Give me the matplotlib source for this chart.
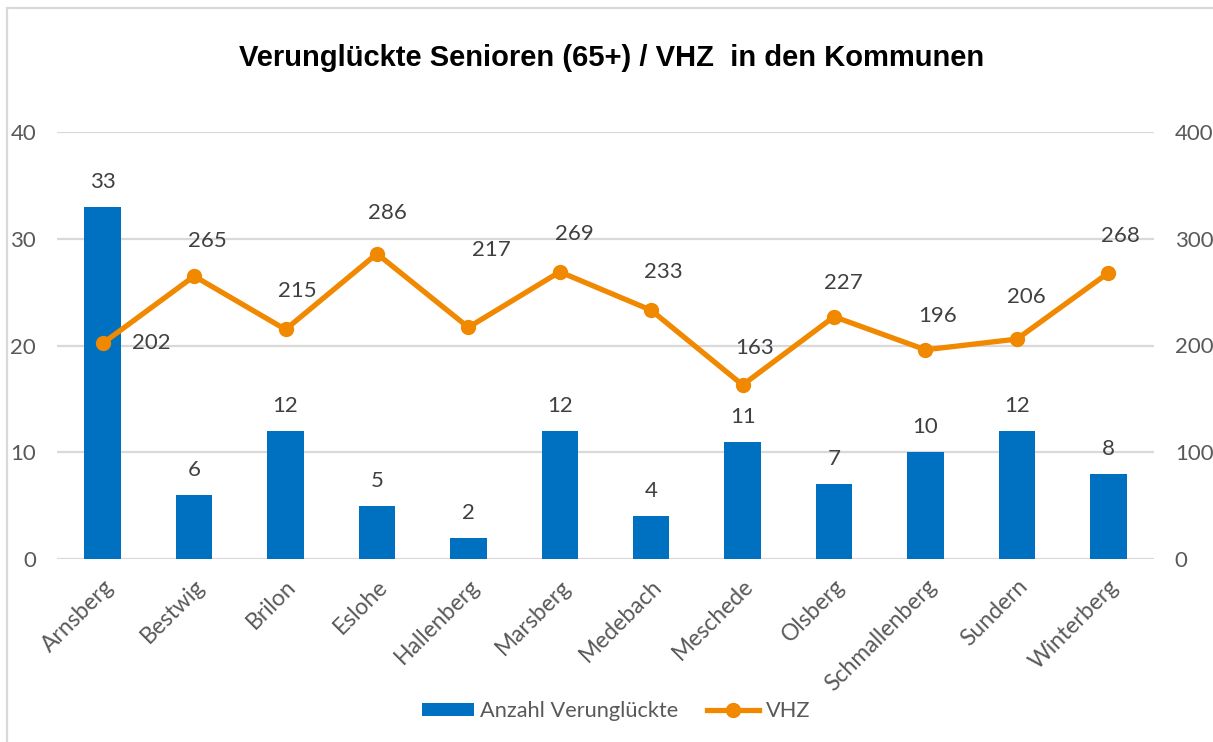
import matplotlib
matplotlib.use("Agg")
import matplotlib.pyplot as plt
import matplotlib.transforms as mtransforms
from matplotlib.patches import Rectangle, Patch
from matplotlib.lines import Line2D

# ---- data ----
kommunen = ["Arnsberg", "Bestwig", "Brilon", "Eslohe", "Hallenberg", "Marsberg",
            "Medebach", "Meschede", "Olsberg", "Schmallenberg", "Sundern", "Winterberg"]
verunglueckte = [33, 6, 12, 5, 2, 12, 4, 11, 7, 10, 12, 8]
vhz = [202, 265, 215, 286, 217, 269, 233, 163, 227, 196, 206, 268]
left_ticks = [0, 10, 20, 30, 40]
right_ticks = [0, 100, 200, 300, 400]
title = "Verunglückte Senioren (65+) / VHZ  in den Kommunen"
legend_labels = ["Anzahl Verunglückte", "VHZ"]

# label offsets (pixels) for VHZ data labels
vhz_label_offsets = [(49, 0), (13, 35), (12, 38), (10, 41), (23, 77), (15, 38),
                     (12, 38), (12, 37), (9, 34), (12, 34), (9, 42), (12, 37)]

BLUE = "#0070C0"
ORANGE = "#F08800"
GRID = "#D9D9D9"
TICKC = "#595959"
LABC = "#404040"
FONT = ["Lato", "DejaVu Sans"]

plt.rcParams["font.family"] = FONT

W, H = 1213, 742
fig = plt.figure(figsize=(W / 100, H / 100), dpi=100)
fig.patch.set_facecolor("white")

ax = fig.add_axes([57 / W, 1 - 559 / H, (1154 - 57) / W, (559 - 132) / H])
ax2 = ax.twinx()

x = list(range(len(kommunen)))
bars = ax.bar(x, verunglueckte, width=0.4, color=BLUE, zorder=2)
ax.set_xlim(-0.5, len(kommunen) - 0.5)
ax.set_ylim(0, 40)
ax.set_yticks(left_ticks)
for yv in left_ticks:
    ax.axhline(yv, color=GRID, lw=1.6, zorder=0)

for xi, v in zip(x, verunglueckte):
    ax.annotate(str(v), (xi, v), xytext=(0, 25), textcoords="offset pixels",
                ha="center", va="center", fontsize=16, color=LABC)

ax2.plot(x, vhz, color=ORANGE, lw=3.8, marker="o", markersize=10, zorder=3,
         solid_capstyle="round")
ax2.set_ylim(0, 400)
ax2.set_yticks(right_ticks)
for xi, v, off in zip(x, vhz, vhz_label_offsets):
    ax2.annotate(str(v), (xi, v), xytext=off, textcoords="offset pixels",
                 ha="center", va="center", fontsize=16, color=LABC)

ax.set_xticks(x)
ax.set_xticklabels(kommunen, rotation=45, ha="right", va="top",
                   rotation_mode="anchor", fontsize=16.5, color=TICKC)
shift = mtransforms.ScaledTranslation(-4 / 100, 0, fig.dpi_scale_trans)
for lbl in ax.get_xticklabels():
    lbl.set_transform(lbl.get_transform() + shift)

for a in (ax, ax2):
    for s in a.spines.values():
        s.set_visible(False)
    a.tick_params(length=0, labelsize=16, colors=TICKC)
ax.tick_params(axis="x", labelsize=16.5)
ax.tick_params(axis="y", pad=15)
ax2.tick_params(axis="y", pad=15)
ax.tick_params(axis="x", pad=12)
ax.set_zorder(ax2.get_zorder() - 1)
ax.patch.set_visible(False)
ax2.patch.set_visible(False)

fig.text(612 / W, 1 - 58 / H, title, ha="center", va="center",
         fontsize=21, fontweight="bold", family=["Liberation Sans", "DejaVu Sans"],
         color="black")

# chart-area border (top & left visible)
fig.add_artist(Rectangle((7 / W, -0.5), 2.0, 0.5 + 1 - 8 / H,
                         transform=fig.transFigure, fill=False,
                         edgecolor=GRID, lw=1.6))

handles = [Patch(facecolor=BLUE, edgecolor="none"),
           Line2D([], [], color=ORANGE, lw=3.8, marker="o", markersize=10)]
leg = fig.legend(handles, legend_labels, loc="center", ncol=2,
                 bbox_to_anchor=(616 / W, 1 - 711 / H), frameon=False,
                 fontsize=15.7, handlelength=2.4, handleheight=0.55,
                 handletextpad=0.3, columnspacing=1.3)
for t in leg.get_texts():
    t.set_color(TICKC)

fig.savefig("out.png", dpi=100)
